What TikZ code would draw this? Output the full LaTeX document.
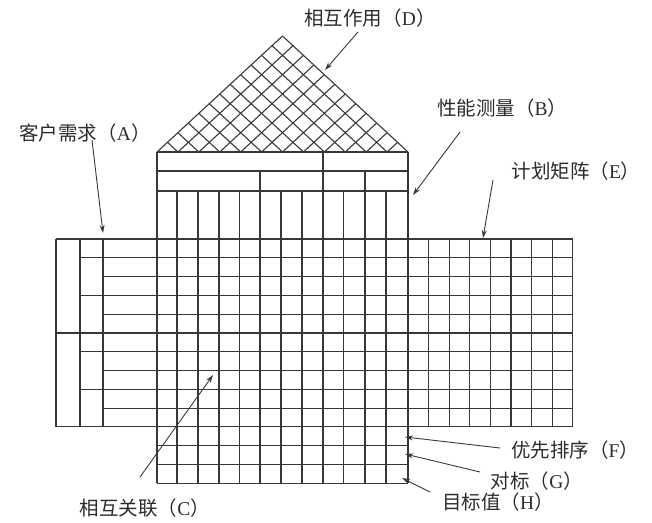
\documentclass[tikz,border=0pt]{standalone}
\usepackage{fontspec}
\setmainfont{Liberation Serif}
\newfontfamily\cjk{Noto Sans CJK SC}
\usetikzlibrary{arrows.meta}
\definecolor{ink}{HTML}{383838}
\definecolor{txt}{HTML}{2b2b2b}
\tikzset{
  gridline/.style={draw=ink, line width=1.1pt},
  callout/.style={draw=ink, line width=0.9pt, -{Stealth[length=8pt,width=5pt]}},
  lbl/.style={text=txt, font=\fontsize{19.5}{21}\selectfont, inner sep=0pt},
}
\newcommand{\lab}[2]{{\cjk #1（}#2{\cjk ）}}
\begin{document}
\begin{tikzpicture}[x=1pt,y=-1pt]
\useasboundingbox (0,0) rectangle (652,522);
% ---- roof (correlation triangle)
\def\L{157}\def\R{408}\def\B{152}\def\T{36}
\pgfmathsetmacro\cw{(\R-\L)/12}
\pgfmathsetmacro\hx{\cw/2}
\pgfmathsetmacro\hy{(\B-\T)/12}
\foreach \k in {0,...,12}{
  \draw[gridline] ({\L+\k*\cw},\B) -- ({\L+\k*\cw+(12-\k)*\hx},{\B-(12-\k)*\hy});
  \draw[gridline] ({\L+\k*\cw},\B) -- ({\L+\k*\cw-\k*\hx},{\B-\k*\hy});
}
% ---- top header rows
\draw[gridline] (\L,152) -- (\R,152);
\draw[gridline] (\L,171) -- (\R,171);
\draw[gridline] (\L,191) -- (\R,191);
% ---- middle columns
\draw[gridline] (\L,152) -- (\L,483.3);
\draw[gridline] (\R,152) -- (\R,483.3);
\foreach \x in {177,198,219,239.5,281,302,343.5,386}{
  \draw[gridline] (\x,191) -- (\x,483.3);
}
\draw[gridline] (323,152) -- (323,483.3);
\draw[gridline] (260,171) -- (260,483.3);
\draw[gridline] (365,171) -- (365,483.3);
% ---- rows
\def\rh{18.79}
\foreach \k in {0,5,10}{
  \draw[gridline] (56,{239+\k*\rh}) -- (573,{239+\k*\rh});
}
\foreach \k in {1,3,6,8}{
  \draw[gridline] (80,{239+\k*\rh}) -- (573,{239+\k*\rh});
}
\foreach \k in {2,4,7,9}{
  \draw[gridline] (103,{239+\k*\rh}) -- (573,{239+\k*\rh});
}
\foreach \k in {11,12,13}{
  \draw[gridline] (\L,{239+\k*\rh}) -- (\R,{239+\k*\rh});
}
% ---- left table verticals
\foreach \x in {56,80,103}{
  \draw[gridline] (\x,239) -- (\x,{239+10*\rh});
}
% ---- right table verticals
\foreach \j in {1,...,8}{
  \draw[gridline] ({\R+\j*20.6},239) -- ({\R+\j*20.6},{239+10*\rh});
}
% ---- labels
\node[lbl] (lD) at (370,18) {\lab{相互作用}{D}};
\node[lbl] (lA) at (85,133) {\lab{客户需求}{A}};
\node[lbl] (lB) at (502,108) {\lab{性能测量}{B}};
\node[lbl] (lE) at (576,171) {\lab{计划矩阵}{E}};
\node[lbl] (lF) at (575,450) {\lab{优先排序}{F}};
\node[lbl] (lG) at (537,481) {\lab{对标}{G}};
\node[lbl, anchor=west] (lH) at (442,502) {\lab{目标值}{H}};
\node[lbl] (lC) at (145,508) {\lab{相互关联}{C}};
% ---- arrow ends
\coordinate (sD) at (358,32);  \coordinate (tD) at (325,70);
\coordinate (sA) at (92,140);  \coordinate (tA) at (103,233);
\coordinate (sB) at (460,132); \coordinate (tB) at (413,195);
\coordinate (sE) at (493,180); \coordinate (tE) at (483,238);
\coordinate (sF) at (500,448); \coordinate (tF) at (405,437);
\coordinate (sG) at (480,472); \coordinate (tG) at (405,454);
\coordinate (sH) at (430,492); \coordinate (tH) at (402,478);
\coordinate (sC) at (140,477); \coordinate (tC) at (213,375);
\foreach \n in {D,A,B,E,F,G,H,C}{
  \draw[callout] (s\n) -- (t\n);
}
\end{tikzpicture}
\end{document}
